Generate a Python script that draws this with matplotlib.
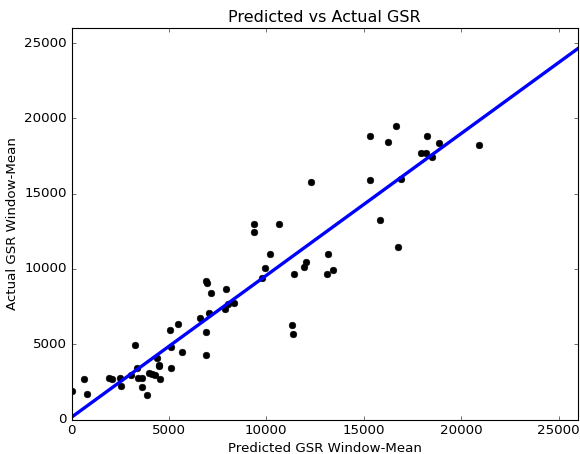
import matplotlib
matplotlib.use("Agg")
import matplotlib.pyplot as plt
import numpy as np

plt.style.use("classic")

predicted = [50, 630, 800, 1950, 2090, 2510, 2550, 3030, 3280, 3370, 3400, 3620, 3610,
             3880, 3970, 4140, 4270, 4390, 4480, 4500, 4560, 5040, 5130, 5130, 5470, 5680,
             6920, 6890, 6620, 6910, 6970, 7140, 7060, 7930, 7900, 8020, 8360, 9790, 9910,
             10170, 11320, 11380, 11440, 11950, 12050, 13180, 13130, 13400, 12270, 9350,
             9350, 10650, 15300, 16650, 16240, 18260, 18890, 17950, 18190, 18500, 20910,
             15300, 16910, 15850, 16780]
actual = [1880, 2680, 1680, 2770, 2660, 2770, 2210, 2930, 4970, 3410, 2750, 2770, 2150,
          1640, 3080, 3040, 2930, 4060, 3640, 3540, 2660, 5920, 4810, 3410, 6360, 4500,
          5810, 4260, 6740, 9180, 9040, 8400, 7070, 8690, 7360, 7690, 7760, 9420, 10060,
          11020, 6250, 5700, 9640, 10130, 10490, 10970, 9640, 9910, 15800, 12970,
          12450, 12970, 18820, 19480, 18420, 18800, 18350, 17730, 17730, 17440, 18220,
          15910, 15980, 13250, 11480]

fit_intercept = 150
fit_slope = 0.942

x_limits = [0, 26000]
ticks = [0, 5000, 10000, 15000, 20000, 25000]

fig = plt.figure(figsize=(7.25, 5.675), dpi=80, facecolor="white")
ax = fig.add_axes([71.5 / 580, 1 - 419.5 / 454, (578 - 71.5) / 580, (419.5 - 28) / 454])

ax.plot(predicted, actual, "o", color="black", markeredgecolor="black", markersize=6)
xs = np.array(x_limits, dtype=float)
ax.plot(xs, fit_intercept + fit_slope * xs, color=(0, 0, 1), linewidth=3)

ax.set_xlim(x_limits)
ax.set_ylim(x_limits)
ax.set_xticks(ticks)
ax.set_yticks(ticks)
ax.set_title("Predicted vs Actual GSR", fontsize=14.4)
ax.set_xlabel("Predicted GSR Window-Mean", fontsize=12)
ax.set_ylabel("Actual GSR Window-Mean", fontsize=12)

fig.savefig("out.png", dpi=80, facecolor="white")
